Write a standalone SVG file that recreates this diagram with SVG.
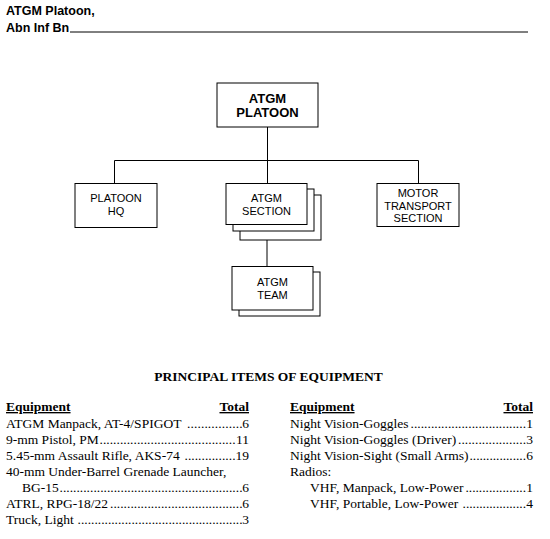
<svg xmlns="http://www.w3.org/2000/svg" width="550" height="539" viewBox="0 0 550 539">
<style>
.box{fill:#fff;stroke:#000;stroke-width:1}
.ln{fill:none;stroke:#000;stroke-width:1}
.org{font-family:"Liberation Sans",Arial,sans-serif;font-size:11px;text-anchor:middle;fill:#000}
.orgb{font-family:"Liberation Sans",Arial,sans-serif;font-size:13px;font-weight:bold;text-anchor:middle;fill:#000}
.hdr{font-family:"Liberation Sans",Arial,sans-serif;font-size:12.5px;font-weight:bold;fill:#000}
.t{font-family:"Liberation Serif","Times New Roman",serif;font-size:13.5px;fill:#000}
.tb{font-family:"Liberation Serif","Times New Roman",serif;font-size:13.5px;font-weight:bold;fill:#000}
.u{text-decoration:underline}
.r{text-anchor:end}
</style>
<rect width="550" height="539" fill="#fff"/>
<g id="header">
<text class="hdr" x="6" y="15">ATGM Platoon,</text>
<text class="hdr" x="6" y="31.5">Abn Inf Bn</text>
<line class="ln" x1="70" y1="32" x2="528" y2="32"/>
</g>
<g id="connectors">
<line class="ln" x1="267.5" y1="127" x2="267.5" y2="183"/>
<line class="ln" x1="114.5" y1="160.5" x2="418.5" y2="160.5"/>
<line class="ln" x1="114.5" y1="160.5" x2="114.5" y2="183"/>
<line class="ln" x1="418.5" y1="160.5" x2="418.5" y2="183"/>
<line class="ln" x1="267" y1="240" x2="267" y2="266.5"/>
</g>
<g id="atgm-platoon">
<rect class="box" x="217" y="83" width="101" height="44"/>
<text class="orgb" x="267.5" y="103">ATGM</text>
<text class="orgb" x="267.5" y="117">PLATOON</text>
</g>
<g id="platoon-hq">
<rect class="box" x="75" y="183.5" width="82" height="44"/>
<text class="org" x="116" y="201.5">PLATOON</text>
<text class="org" x="116" y="214.5">HQ</text>
</g>
<g id="atgm-section">
<rect class="box" x="240" y="195" width="81" height="45"/>
<rect class="box" x="233" y="189" width="81" height="42"/>
<rect class="box" x="226" y="183.5" width="81" height="41"/>
<text class="org" x="266.5" y="201.5">ATGM</text>
<text class="org" x="266.5" y="214.5">SECTION</text>
</g>
<g id="motor-transport-section">
<rect class="box" x="377" y="183.5" width="82" height="43"/>
<text class="org" x="418" y="197">MOTOR</text>
<text class="org" x="418" y="209.5">TRANSPORT</text>
<text class="org" x="418" y="222">SECTION</text>
</g>
<g id="atgm-team">
<rect class="box" x="239" y="272" width="81" height="44"/>
<rect class="box" x="232" y="266.5" width="81" height="43.5"/>
<text class="org" x="272.5" y="286">ATGM</text>
<text class="org" x="272.5" y="298.5">TEAM</text>
</g>
<g id="equipment">
<text class="tb" x="268.5" y="381" text-anchor="middle">PRINCIPAL ITEMS OF EQUIPMENT</text>
<text class="tb u" x="6" y="411">Equipment</text>
<text class="tb u r" x="249" y="411">Total</text>
<text class="t" x="6" y="428">ATGM Manpack, AT-4/SPIGOT</text>
<text class="t" x="187" y="428" textLength="55.5" lengthAdjust="spacing">................</text>
<text class="t r" x="249" y="428">6</text>
<text class="t" x="6" y="444">9-mm Pistol, PM</text>
<text class="t" x="99.5" y="444" textLength="136" lengthAdjust="spacing">........................................</text>
<text class="t r" x="249" y="444">11</text>
<text class="t" x="6" y="460">5.45-mm Assault Rifle, AKS-74</text>
<text class="t" x="184.5" y="460" textLength="51" lengthAdjust="spacing">...............</text>
<text class="t r" x="249" y="460">19</text>
<text class="t" x="6" y="476">40-mm Under-Barrel Grenade Launcher,</text>
<text class="t" x="22" y="492">BG-15</text>
<text class="t" x="59.5" y="492" textLength="183" lengthAdjust="spacing">......................................................</text>
<text class="t r" x="249" y="492">6</text>
<text class="t" x="6" y="508">ATRL, RPG-18/22</text>
<text class="t" x="110" y="508" textLength="132.5" lengthAdjust="spacing">.......................................</text>
<text class="t r" x="249" y="508">6</text>
<text class="t" x="6" y="524">Truck, Light</text>
<text class="t" x="77.6" y="524" textLength="164.9" lengthAdjust="spacing">.................................................</text>
<text class="t r" x="249" y="524">3</text>
<text class="tb u" x="290" y="411">Equipment</text>
<text class="tb u r" x="533" y="411">Total</text>
<text class="t" x="290" y="428">Night Vision-Goggles</text>
<text class="t" x="410.5" y="428" textLength="115.5" lengthAdjust="spacing">..................................</text>
<text class="t r" x="533" y="428">1</text>
<text class="t" x="290" y="444">Night Vision-Goggles (Driver)</text>
<text class="t" x="458" y="444" textLength="68" lengthAdjust="spacing">....................</text>
<text class="t r" x="533" y="444">3</text>
<text class="t" x="290" y="460">Night Vision-Sight (Small Arms)</text>
<text class="t" x="469.5" y="460" textLength="56.5" lengthAdjust="spacing">.................</text>
<text class="t r" x="533" y="460">6</text>
<text class="t" x="290" y="476">Radios:</text>
<text class="t" x="310" y="492">VHF, Manpack, Low-Power</text>
<text class="t" x="465.4" y="492" textLength="60.6" lengthAdjust="spacing">..................</text>
<text class="t r" x="533" y="492">1</text>
<text class="t" x="310" y="508">VHF, Portable, Low-Power</text>
<text class="t" x="462.6" y="508" textLength="63.4" lengthAdjust="spacing">...................</text>
<text class="t r" x="533" y="508">4</text>
</g>
</svg>
